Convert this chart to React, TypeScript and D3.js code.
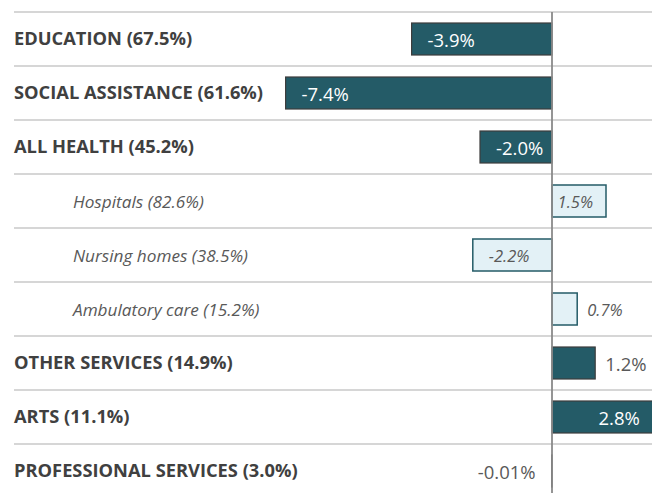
import React from "react";
import * as d3 from "d3";

const categories = [
  "EDUCATION (67.5%)",
  "SOCIAL ASSISTANCE (61.6%)",
  "ALL HEALTH (45.2%)",
  "Hospitals (82.6%)",
  "Nursing homes (38.5%)",
  "Ambulatory care (15.2%)",
  "OTHER SERVICES (14.9%)",
  "ARTS (11.1%)",
  "PROFESSIONAL SERVICES (3.0%)",
];
const values = [-3.9, -7.4, -2.0, 1.5, -2.2, 0.7, 1.2, 2.8, -0.01];
const valueLabels = ["-3.9%", "-7.4%", "-2.0%", "1.5%", "-2.2%", "0.7%", "1.2%", "2.8%", "-0.01%"];
const isSub = [false, false, false, true, true, true, false, false, false];
const labelInside = [true, true, true, true, true, false, false, true, false];

const W = 652;
const H = 493;
const DARK = "#245b67";
const LIGHT = "#e3f1f6";
const FONT = "'Open Sans', 'DejaVu Sans', sans-serif";

export default function App() {
  const x = d3.scaleLinear().domain([-8, 3]).range([264, 660]);
  const row = d3.scaleBand<string>().domain(categories).range([12, 498]);
  const step = row.step();
  const barH = 32;
  const x0 = x(0);

  return (
    <svg width={W} height={H} style={{ position: "absolute", left: 0, top: 0, background: "#fff" }}>
      {categories.map((c) => (
        <line key={"g" + c} x1={14} x2={W} y1={row(c)!} y2={row(c)!} stroke="#c9c9c9" strokeWidth={1.5} />
      ))}
      {categories.map((c, i) => {
        const v = values[i];
        const sub = isSub[i];
        const y0 = row(c)! + (step - barH) / 2;
        const cy = row(c)! + step / 2;
        const bx = Math.min(x(v), x0);
        const bw = Math.abs(x(v) - x0);
        const inside = labelInside[i];
        let tx: number;
        let anchor: string;
        if (v < 0) {
          if (inside) { tx = x(v) + 16; anchor = "start"; } else { tx = x(v) - 16; anchor = "end"; }
        } else {
          if (inside) { tx = x(v) - 13; anchor = "end"; } else { tx = x(v) + 10; anchor = "start"; }
        }
        const white = inside && !sub;
        return (
          <g key={c}>
            <rect
              x={bx}
              y={y0}
              width={bw}
              height={barH}
              fill={sub ? LIGHT : DARK}
              stroke={sub ? DARK : "#3d3d3d"}
              strokeWidth={sub ? 1.5 : 1.2}
            />
            <text
              x={sub ? 73 : 14}
              y={sub ? cy : cy - 2}
              dominantBaseline="central"
              fontFamily={FONT}
              fontSize={sub ? 17.2 : 18.3}
              fontWeight={sub ? 400 : 700}
              fontStyle={sub ? "italic" : "normal"}
              fill={sub ? "#595959" : "#404040"}
            >
              {c}
            </text>
            <text
              x={tx}
              y={cy}
              textAnchor={anchor}
              dominantBaseline="central"
              fontFamily={FONT}
              fontSize={sub ? 16.5 : 18.5}
              fontStyle={sub ? "italic" : "normal"}
              fill={white ? "#ffffff" : "#595959"}
            >
              {valueLabels[i]}
            </text>
          </g>
        );
      })}
      <line x1={x0} x2={x0} y1={12} y2={H} stroke="#8a8a8a" strokeWidth={1.8} />
    </svg>
  );
}
